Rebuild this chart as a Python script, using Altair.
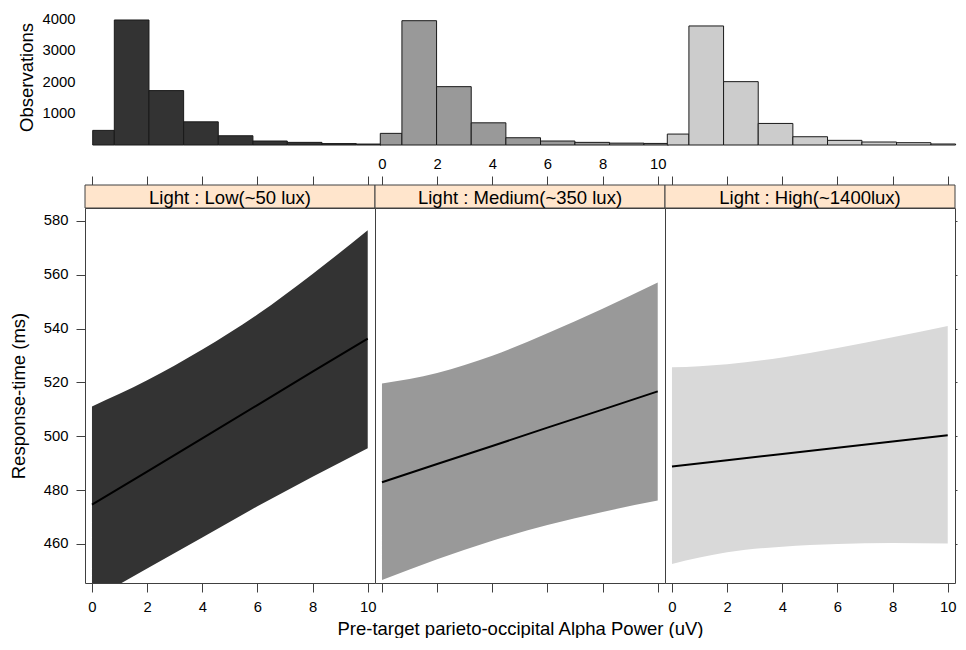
import altair as alt
import pandas as pd

FONT = "Liberation Sans"
FRAME = "#404040"

# ---------------- data ----------------
light_labels = ["Light : Low(~50 lux)", "Light : Medium(~350 lux)", "Light : High(~1400lux)"]

alpha_x = [0, 2, 4, 6, 8, 10]
fit_low = [474.6, 486.9, 499.2, 511.6, 524.0, 536.3]
upper_low = [511.1, 520.8, 532.2, 545.2, 560.3, 576.5]
lower_low = [439.2, 450.9, 462.4, 474.0, 485.0, 495.6]
fit_med = [482.9, 489.7, 496.4, 503.2, 509.9, 516.7]
upper_med = [519.6, 523.5, 529.9, 538.3, 547.4, 557.1]
lower_med = [446.6, 454.3, 461.2, 467.0, 471.9, 476.1]
fit_high = [488.8, 491.1, 493.4, 495.7, 498.1, 500.4]
upper_high = [525.6, 526.8, 529.3, 532.8, 536.8, 541.0]
lower_high = [452.6, 456.9, 459.0, 460.0, 460.4, 460.2]

bin_edges = [0, 0.78, 2.03, 3.28, 4.53, 5.78, 7.02, 8.27, 9.51, 10.4]
count_low = [465, 3978, 1731, 737, 294, 127, 84, 45, 30]
count_med = [370, 3956, 1857, 706, 231, 127, 84, 60, 50]
count_high = [348, 3788, 2016, 686, 263, 148, 95, 74, 32]

tick_vals_x = [0, 2, 4, 6, 8, 10]
tick_vals_y = [460, 480, 500, 520, 540, 560, 580]
tick_vals_count = [1000, 2000, 3000, 4000]

x_title = "Pre-target parieto-occipital Alpha Power (uV)"
y_title = "Response-time (ms)"
hist_title = "Observations"

fits = [fit_low, fit_med, fit_high]
uppers = [upper_low, upper_med, upper_high]
lowers = [lower_low, lower_med, lower_high]
counts = [count_low, count_med, count_high]

# ---------------- styling / layout ----------------
hist_fills = ["#333333", "#999999", "#cccccc"]
band_fills = ["#333333", "#999999", "#d9d9d9"]
STRIP_FILL = "#ffe5cc"
PW, PH = 290, 375
HH = 136
STRIP_H = 23
x_scale = alt.Scale(domain=[-0.253, 10.264], nice=False, zero=False)
y_scale = alt.Scale(domain=[445.5, 584.8], nice=False, zero=False)
hist_domains = [[-0.278, 10.184], [-0.191, 10.27], [-0.083, 10.379]]


def panel(i):
    df = pd.DataFrame({"x": alpha_x, "fit": fits[i], "lo": lowers[i], "hi": uppers[i]})
    sdf = pd.DataFrame({"label": [light_labels[i]]})

    if i == 1:
        bottom_axis = alt.Axis(orient="bottom", values=tick_vals_x, tickSize=9, labels=False,
                               title=x_title, titleY=51, titleBaseline="alphabetic")
    else:
        bottom_axis = alt.Axis(orient="bottom", values=tick_vals_x, tickSize=9, labelPadding=7,
                               labelFlush=False, title=None)
    top_axis = alt.Axis(orient="top", offset=STRIP_H, values=tick_vals_x, tickSize=9,
                        labelPadding=5, labels=(i == 1), labelFlush=False, title=None)

    if i == 0:
        y_axis = alt.Axis(orient="left", values=tick_vals_y, tickSize=9, labelPadding=8,
                          title=y_title, titlePadding=15)
    elif i == 2:
        y_axis = alt.Axis(orient="right", values=tick_vals_y, tickSize=2, labels=False, title=None)
    else:
        y_axis = None

    band = alt.Chart(df).mark_area(fill=band_fills[i], clip=True, interpolate="monotone").encode(
        x=alt.X("x:Q", scale=x_scale, axis=bottom_axis),
        y=alt.Y("lo:Q", scale=y_scale, axis=y_axis),
        y2="hi:Q",
    )
    line = alt.Chart(df).mark_line(color="black", strokeWidth=2, clip=True).encode(
        x=alt.X("x:Q", scale=x_scale, axis=top_axis),
        y=alt.Y("fit:Q", scale=y_scale, axis=None),
    )
    strip_rect = alt.Chart(sdf).mark_rect(fill=STRIP_FILL, stroke=FRAME, strokeWidth=1).encode(
        x=alt.value(0), x2=alt.value(PW), y=alt.value(-STRIP_H), y2=alt.value(0)
    )
    strip_text = alt.Chart(sdf).mark_text(font=FONT, fontSize=18.5, color="black",
                                          align="center", baseline="alphabetic").encode(
        text="label:N", x=alt.value(PW / 2), y=alt.value(-3.7)
    )
    return alt.layer(band, line, strip_rect, strip_text).resolve_axis(
        x="independent", y="independent"
    ).properties(width=PW, height=PH,
                 view=alt.ViewBackground(stroke=FRAME, strokeWidth=1, fill="white"))


def hist(i):
    hdf = pd.DataFrame({"start": bin_edges[:-1], "end": bin_edges[1:], "count": counts[i]})
    if i == 0:
        yax = alt.Axis(orient="left", values=tick_vals_count, ticks=False, tickSize=0, format="d",
                       labelPadding=10, title=hist_title, titlePadding=6)
    else:
        yax = None
    return alt.Chart(hdf).mark_rect(fill=hist_fills[i], stroke="#1a1a1a", strokeWidth=1).encode(
        x=alt.X("start:Q", scale=alt.Scale(domain=hist_domains[i], nice=False, zero=False), axis=None),
        x2="end:Q",
        y=alt.Y("count:Q", scale=alt.Scale(domain=[0, 4328], nice=False), axis=yax),
        y2=alt.datum(0),
    ).properties(width=PW, height=HH, view=alt.ViewBackground(stroke="transparent"))


chart = alt.concat(
    hist(0), hist(1), hist(2), panel(0), panel(1), panel(2),
    columns=3, spacing={"row": 63, "column": 0}, bounds="flush",
).properties(
    padding={"left": 0, "top": 0, "right": 0, "bottom": 0},
).configure(
    font=FONT
).configure_axis(
    labelFont=FONT, labelFontSize=14.8, labelColor="black",
    titleFont=FONT, titleFontSize=18.5, titleFontWeight="normal", titleColor="black",
    tickColor=FRAME, tickWidth=1, domain=False, grid=False,
)

chart.save("out.html", embed_options={"renderer": "svg", "actions": False})
